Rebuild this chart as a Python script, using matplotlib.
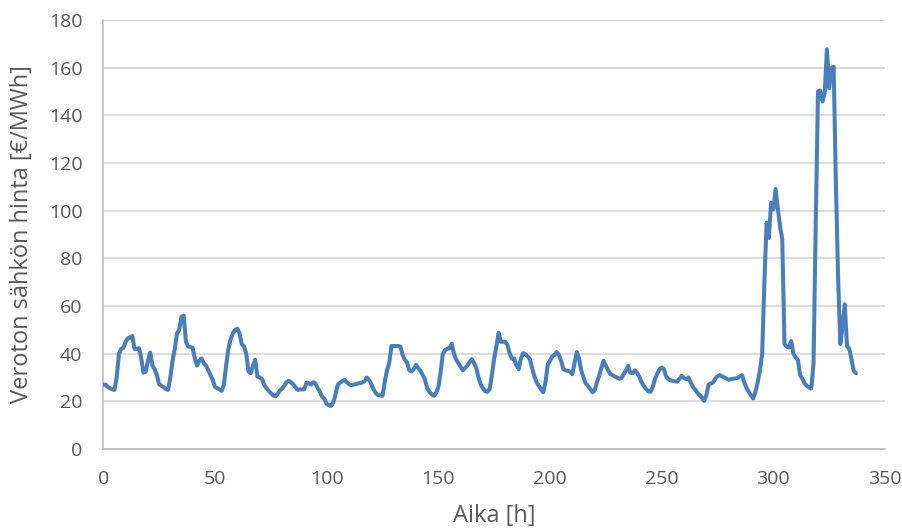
import numpy as np
import matplotlib
matplotlib.use("Agg")
import matplotlib.pyplot as plt

# Hourly tax-free electricity price over two weeks [€/MWh]
price = [
    27, 27, 26, 25.5, 25, 24.8, 30, 40, 42, 42.5,
    45, 46.5, 46.8, 47.4, 42, 42, 42.3, 38, 32, 32.5,
    37, 40.5, 35, 33.5, 31, 27.2, 26.5, 26, 25.2, 24.8,
    30, 37, 42, 48.5, 50, 55.5, 56, 45, 43, 42.8,
    42.5, 38, 35, 37, 38, 36, 35, 33, 31, 29,
    26, 25.5, 25, 24.4, 27, 35, 42, 46, 48.5, 50,
    50.5, 48.5, 44, 43, 40, 32.5, 31.8, 35, 37.5,
    30.5, 30, 29.5, 27, 25.5, 24.5, 23.5, 22.5, 22.1, 23,
    24.5, 25.4, 26.5, 28, 28.6, 28, 27.2, 26, 24.8, 25,
    25, 25.1, 27.9, 27.5, 27, 28, 27.5, 25.4, 24, 22,
    21, 19, 18.3, 18.1, 19.5, 23, 27, 27.8, 28.5, 29,
    28, 27.2, 26.8, 27, 27.2, 27.5, 27.7, 27.9, 28.5, 30,
    29, 27.2, 25, 23.5, 22.6, 22.5, 22.3, 28, 33, 36,
    43.2, 43.2, 43.2, 43.2, 43, 39.5, 37.5, 36.3, 33, 32.5,
    33.5, 35.3, 34, 32.8, 31, 29.3, 25.5, 24, 23, 22.3,
    23.5, 25.8, 32, 39.8, 41.5, 42.1, 42.2, 44.2, 40, 37.5,
    36, 34.5, 33, 34, 35, 36.5, 37.7, 36, 34, 30,
    27, 25.5, 24.2, 24, 25.1, 31, 38, 43, 48.8, 45,
    45, 45, 43.5, 40, 37.9, 37.9, 35, 33.5, 38, 40.2,
    39.8, 38.8, 37.7, 34, 30.5, 28, 26.5, 25, 23.8, 28,
    35.6, 37, 38.8, 39.5, 40.7, 39.5, 37, 33.5, 33, 32.8,
    32.5, 31.4, 36, 40.7, 38, 33, 30, 27.5, 26.5, 25.2,
    23.8, 24.5, 28, 30.7, 34, 37, 35, 33, 31.4,
    31, 30.4, 30, 29.5, 29.8, 31.4, 33, 34.9, 32, 31.8,
    33, 32, 30.3, 28, 26.5, 25.2, 24.2, 24, 26, 29.3,
    31.5, 33.5, 34.2, 33.5, 30.5, 29.3, 28.8, 28.6, 28.4, 28.2,
    29.5, 30.7, 29.8, 29.3, 30, 28, 26, 25, 23.5, 22.6,
    21.5, 20.2, 22.5, 27, 27.5, 27.9, 29.5, 30.5, 31, 30.5,
    30, 29.5, 29, 29.3, 29.5, 29.6, 29.8, 30.5, 31, 28,
    25.5, 24, 22.5, 21.2, 24, 28, 33, 40, 70, 95,
    88.6, 103.3, 100.5, 109.1, 101, 93.5, 88, 44, 43, 42.6,
    45.3, 40, 38.4, 37.4, 31, 29.5, 27.5, 26.5, 25.8, 25.4,
    36, 95, 150, 150.4, 145.8, 149.3, 167.7, 151.4, 160, 160.4,
    112, 72, 44, 51.6, 60.7, 43.2, 42, 37.7, 32.8, 31.8,
]
hours = np.arange(len(price))

x_ticks = [0, 50, 100, 150, 200, 250, 300, 350]
y_ticks = [0, 20, 40, 60, 80, 100, 120, 140, 160, 180]

x_label = "Aika [h]"
y_label = "Veroton sähkön hinta [€/MWh]"

text_color = "#595959"
line_color = "#4a7ebb"
grid_color = "#d9d9d9"
axis_color = "#bfbfbf"

plt.rcParams["font.family"] = ["Open Sans", "DejaVu Sans"]

fig = plt.figure(figsize=(9.03, 5.30), dpi=100)
ax = fig.add_axes([103.3 / 903, (530 - 449) / 530, (885 - 103.3) / 903, (449 - 20) / 530])

ax.plot(hours, price, color=line_color, lw=2.9,
        solid_joinstyle="round", solid_capstyle="round", zorder=3)

ax.set_xlim(0, 350)
ax.set_ylim(0, 180)
ax.set_xticks(x_ticks)
ax.set_yticks(y_ticks)

ax.yaxis.grid(True, color=grid_color, lw=1.3, zorder=0)
ax.set_axisbelow(True)

for side in ("top", "right"):
    ax.spines[side].set_visible(False)
for side in ("left", "bottom"):
    ax.spines[side].set_color(axis_color)
    ax.spines[side].set_linewidth(1.2)

ax.tick_params(axis="both", length=0, labelsize=14, labelcolor=text_color, pad=15)

fig.text(494 / 903, (530 - 516) / 530, x_label, ha="center", va="center",
         fontsize=17, color=text_color)
fig.text(22 / 903, (530 - 234) / 530, y_label, ha="center", va="center",
         rotation=90, fontsize=17, color=text_color)

fig.savefig("out.png", dpi=100)
